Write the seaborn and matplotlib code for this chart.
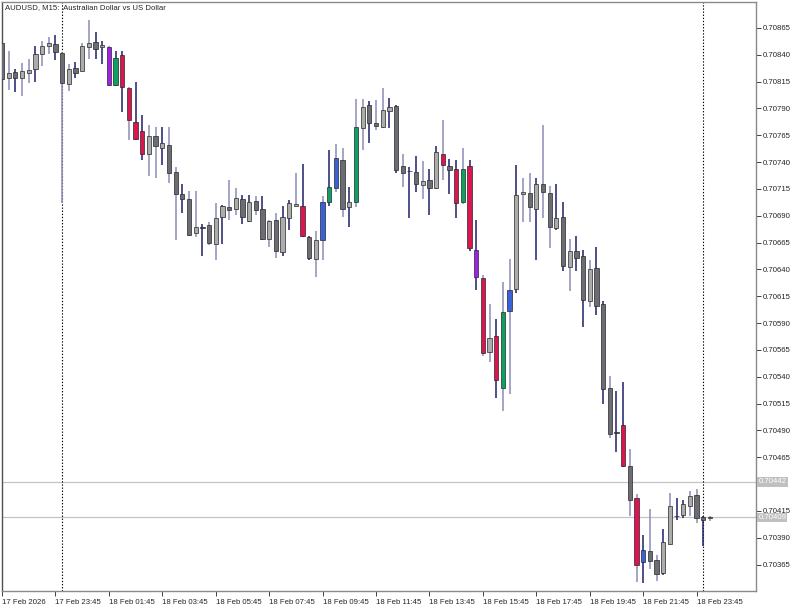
import numpy as np
import pandas as pd
import matplotlib
matplotlib.use("Agg")
import matplotlib.pyplot as plt
import matplotlib.transforms as mtransforms
import seaborn as sns

# AUDUSD M15 candles, 17 Feb 2026 21:45 -> 19 Feb 2026 00:15
open_ = [0.70851, 0.70818, 0.70824, 0.70818, 0.70823, 0.70827, 0.70841, 0.70848, 0.70850, 0.70842,
         0.70813, 0.70828, 0.70825, 0.70847, 0.70852, 0.70847, 0.70847, 0.70812, 0.70840, 0.70809,
         0.70777, 0.70769, 0.70748, 0.70764, 0.70753, 0.70756, 0.70731, 0.70710, 0.70706, 0.70674,
         0.70680, 0.70681, 0.70664, 0.70689, 0.70698, 0.70696, 0.70706, 0.70685, 0.70704, 0.70696,
         0.70668, 0.70686, 0.70656, 0.70688, 0.70699, 0.70699, 0.70670, 0.70650, 0.70667, 0.70703,
         0.70716, 0.70742, 0.70698, 0.70703, 0.70772, 0.70793, 0.70776, 0.70773, 0.70788, 0.70792,
         0.70736, 0.70732, 0.70731, 0.70719, 0.70723, 0.70716, 0.70748, 0.70736, 0.70734, 0.70703,
         0.70736, 0.70658, 0.70632, 0.70563, 0.70578, 0.70530, 0.70601, 0.70622, 0.70710, 0.70711,
         0.70696, 0.70720, 0.70711, 0.70679, 0.70689, 0.70642, 0.70657, 0.70653, 0.70611, 0.70641,
         0.70608, 0.70530, 0.70489, 0.70495, 0.70457, 0.70427, 0.70367, 0.70378, 0.70369, 0.70357,
         0.70384, 0.70410, 0.70411, 0.70420, 0.70430, 0.70409, 0.70408]
high = [0.70853, 0.70844, 0.70827, 0.70832, 0.70836, 0.70848, 0.70853, 0.70857, 0.70858, 0.70843,
        0.70831, 0.70833, 0.70851, 0.70872, 0.70861, 0.70853, 0.70848, 0.70844, 0.70844, 0.70810,
        0.70815, 0.70784, 0.70775, 0.70773, 0.70773, 0.70773, 0.70735, 0.70720, 0.70713, 0.70713,
        0.70682, 0.70684, 0.70702, 0.70700, 0.70723, 0.70716, 0.70709, 0.70709, 0.70708, 0.70708,
        0.70686, 0.70693, 0.70699, 0.70705, 0.70730, 0.70738, 0.70671, 0.70676, 0.70708, 0.70751,
        0.70757, 0.70753, 0.70717, 0.70799, 0.70799, 0.70797, 0.70798, 0.70809, 0.70800, 0.70793,
        0.70748, 0.70735, 0.70746, 0.70741, 0.70734, 0.70755, 0.70779, 0.70743, 0.70742, 0.70753,
        0.70742, 0.70686, 0.70635, 0.70608, 0.70594, 0.70628, 0.70650, 0.70737, 0.70725, 0.70730,
        0.70725, 0.70775, 0.70718, 0.70720, 0.70703, 0.70668, 0.70671, 0.70658, 0.70649, 0.70661,
        0.70611, 0.70541, 0.70527, 0.70535, 0.70473, 0.70431, 0.70393, 0.70417, 0.70374, 0.70398,
        0.70432, 0.70427, 0.70425, 0.70434, 0.70435, 0.70410, 0.70410]
low = [0.70815, 0.70807, 0.70805, 0.70802, 0.70814, 0.70815, 0.70830, 0.70841, 0.70835, 0.70702,
       0.70806, 0.70818, 0.70824, 0.70836, 0.70836, 0.70831, 0.70811, 0.70811, 0.70787, 0.70761,
       0.70761, 0.70742, 0.70727, 0.70725, 0.70737, 0.70721, 0.70667, 0.70693, 0.70671, 0.70670,
       0.70653, 0.70663, 0.70649, 0.70664, 0.70686, 0.70691, 0.70682, 0.70684, 0.70691, 0.70667,
       0.70661, 0.70651, 0.70653, 0.70677, 0.70698, 0.70670, 0.70649, 0.70633, 0.70649, 0.70699,
       0.70712, 0.70689, 0.70680, 0.70698, 0.70751, 0.70758, 0.70770, 0.70772, 0.70772, 0.70730,
       0.70717, 0.70688, 0.70712, 0.70706, 0.70691, 0.70715, 0.70723, 0.70710, 0.70688, 0.70701,
       0.70657, 0.70621, 0.70559, 0.70554, 0.70520, 0.70508, 0.70524, 0.70618, 0.70684, 0.70684,
       0.70649, 0.70688, 0.70660, 0.70677, 0.70639, 0.70620, 0.70639, 0.70586, 0.70605, 0.70598,
       0.70515, 0.70483, 0.70470, 0.70456, 0.70410, 0.70349, 0.70348, 0.70361, 0.70350, 0.70355,
       0.70383, 0.70407, 0.70408, 0.70410, 0.70404, 0.70382, 0.70406]
close = [0.70817, 0.70823, 0.70818, 0.70825, 0.70826, 0.70841, 0.70848, 0.70851, 0.70843, 0.70814,
         0.70827, 0.70823, 0.70848, 0.70851, 0.70845, 0.70849, 0.70812, 0.70837, 0.70810, 0.70779,
         0.70762, 0.70748, 0.70764, 0.70755, 0.70758, 0.70730, 0.70710, 0.70706, 0.70672, 0.70680,
         0.70679, 0.70665, 0.70688, 0.70699, 0.70695, 0.70707, 0.70689, 0.70703, 0.70695, 0.70668,
         0.70685, 0.70657, 0.70689, 0.70702, 0.70701, 0.70671, 0.70651, 0.70667, 0.70703, 0.70717,
         0.70744, 0.70696, 0.70703, 0.70773, 0.70791, 0.70776, 0.70774, 0.70789, 0.70791, 0.70733,
         0.70730, 0.70732, 0.70720, 0.70722, 0.70716, 0.70749, 0.70737, 0.70733, 0.70702, 0.70734,
         0.70660, 0.70633, 0.70562, 0.70576, 0.70537, 0.70600, 0.70621, 0.70709, 0.70712, 0.70698,
         0.70720, 0.70712, 0.70680, 0.70688, 0.70643, 0.70657, 0.70651, 0.70612, 0.70640, 0.70606,
         0.70529, 0.70487, 0.70488, 0.70457, 0.70425, 0.70365, 0.70379, 0.70368, 0.70356, 0.70386,
         0.70420, 0.70410, 0.70421, 0.70429, 0.70408, 0.70407, 0.70409]

# highlighted candles: P purple, G green, R crimson, B blue, . normal
pattern = ".........." "......PGRR" "RR........" ".........." ".....R..BG" \
          "B..G......" "......R.RG" "RPR.RGB..." ".........." "...R.RB..." "......."
# wick shade: 1 dark navy, 0 light lavender
wick_dark = "1010010010" "0100110110" "1100100100" "1001001101" "0011011001" \
            "0010010011" "0110110110" "1100100100" "1001101101" "1011001001" "0110010"

bid, ask = 0.70409, 0.70442
tick_labels = ["17 Feb 2026", "17 Feb 23:45", "18 Feb 01:45", "18 Feb 03:45", "18 Feb 05:45",
               "18 Feb 07:45", "18 Feb 09:45", "18 Feb 11:45", "18 Feb 13:45", "18 Feb 15:45",
               "18 Feb 17:45", "18 Feb 19:45", "18 Feb 21:45", "18 Feb 23:45"]
price_ticks = [0.70365, 0.70390, 0.70415, 0.70440, 0.70465, 0.70490, 0.70515, 0.70540, 0.70565,
               0.70590, 0.70615, 0.70640, 0.70665, 0.70690, 0.70715, 0.70740, 0.70765, 0.70790,
               0.70815, 0.70840, 0.70865]

times = pd.date_range("2026-02-17 21:45", periods=len(open_), freq="15min")
df = pd.DataFrame({"time": times, "open": open_, "high": high, "low": low, "close": close,
                   "pattern": list(pattern), "wick": list(wick_dark)})
df["x"] = np.arange(len(df)) - 9  # 0 = 18 Feb 00:00

sns.set_style("white")
plt.rcParams["font.family"] = ["Liberation Sans", "DejaVu Sans"]

special = {"P": "#a020e8", "G": "#0f9f62", "R": "#dc1450", "B": "#3a62d8"}
body_col = [special[p] if p in special else ("#acacac" if c >= o else "#6c6c74")
            for p, o, c in zip(df["pattern"], df["open"], df["close"])]
wick_col = ["#1e1e6a" if w == "1" else "#8c8cb8" for w in df["wick"]]

fig = plt.figure(figsize=(8, 6.09), dpi=100)
ax = fig.add_axes([2 / 800, 18 / 609, 754 / 800, 589 / 609])

ax.axhline(ask, color="#c4c4c4", lw=0.9, zorder=1)
ax.axhline(bid, color="#c4c4c4", lw=0.9, zorder=1)
for t in ["2026-02-18 00:00", "2026-02-19 00:00"]:
    xs = df.loc[df["time"] == pd.Timestamp(t), "x"].iloc[0]
    ax.axvline(xs, color="black", lw=0.8, linestyle=(0, (1.2, 1.6)), zorder=1)

ax.vlines(df["x"], df["low"], df["high"], colors=wick_col, lw=1.1, zorder=2)
ax.bar(df["x"], (df["close"] - df["open"]).abs(), bottom=df[["open", "close"]].min(axis=1),
       width=0.64, color=body_col, edgecolor="#262626", linewidth=0.5, zorder=3)

ax.set_xlim((2 - 61.7) / 6.683, (756 - 61.7) / 6.683)
ax.set_ylim(0.703404, 0.708892)

# time axis: first label, then every 2 hours from 23:45
tick_idx = [0] + list(range(8, len(df), 8))
ax.set_xticks(df["x"].iloc[tick_idx])
ax.set_xticklabels(tick_labels, fontsize=5.6, ha="left")
offset = mtransforms.ScaledTranslation(1 / 100, 0, fig.dpi_scale_trans)
for lab in ax.get_xticklabels():
    lab.set_transform(lab.get_transform() + offset)

# the ask price box hides the 0.70440 label, as in the terminal
ax.yaxis.tick_right()
ax.set_yticks(price_ticks)
ax.set_yticklabels(["" if abs(p - ask) < 0.0001 else f"{p:.5f}" for p in price_ticks], fontsize=5.6)
ax.tick_params(axis="both", length=3.5, width=0.7, color="#404040", pad=1.5)
ax.tick_params(axis="x", bottom=True, pad=2)
for s in ax.spines.values():
    s.set_color("#8a8a8a")
    s.set_linewidth(1.0)
ax.spines["left"].set_color("#505050")

for p in [ask, bid]:
    ax.text(1.003, p, f"{p:.5f}", transform=ax.get_yaxis_transform(), fontsize=5.6,
            color="white", va="center", ha="left",
            bbox=dict(boxstyle="square,pad=0.15", fc="#c0c0c0", ec="none"), zorder=5, clip_on=False)

fig.text(5 / 800, 1 - 8 / 609, "AUDUSD, M15:  Australian Dollar vs US Dollar", fontsize=5.6,
         va="center", ha="left")

fig.savefig("out.png", dpi=100)
